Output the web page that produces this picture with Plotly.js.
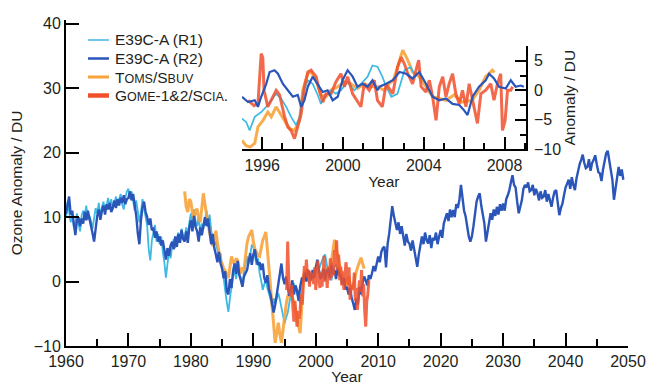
<!DOCTYPE html>
<html>
<head>
<meta charset="utf-8">
<script src="https://cdn.plot.ly/plotly-3.0.1.min.js"></script>
<style>html,body{margin:0;padding:0;background:#fff;}#chart{width:646px;height:385px;}</style>
</head>
<body>
<div id="chart"></div>
<script>
// ---------------- DATA ----------------
// Main panel: quarterly samples, anomaly in DU
const r2Start = 1960;
const r2Values = [
 10.5,11.8,13.2,10.4, 11.0,9.0,7.2,9.5, 10.0,8.6,9.8,9.0, 10.8,9.5,11.0,9.8, 8.8,7.5,6.2,8.5,
 10.2,11.2,9.6,11.0, 11.8,10.4,12.0,11.2, 12.2,10.8,11.5,12.6, 11.4,12.8,11.8,13.0, 12.2,13.4,12.0,12.8,
 13.0,14.0,12.6,13.6, 12.0,10.2,7.5,5.8, 9.5,11.5,12.4,10.8, 10.0,8.8,9.8,8.0, 8.2,6.8,7.8,6.2,
 7.0,5.6,6.4,4.8, 3.4,5.2,4.0,5.6, 6.2,5.0,7.0,5.4, 7.4,6.0,8.0,6.6, 6.2,7.8,6.0,8.4,
 9.5,7.8,10.2,8.5, 7.8,6.2,8.4,7.2, 9.0,10.0,8.6,9.8, 7.8,5.8,7.4,5.2, 4.2,3.0,4.6,2.8,
 2.0,0.5,1.6,-1.5, -2.0,0.4,-1.0,1.6, 2.8,1.2,3.2,1.0, 0.2,-0.8,0.8,1.4, 1.8,3.2,4.4,2.6,
 4.2,5.0,3.4,2.6, 3.0,1.8,2.8,0.6, -0.2,1.0,-1.2,-2.0, -3.2,-4.8,-3.6,-2.0, -1.0,1.2,2.8,0.6,
 -0.4,0.8,-1.0,-2.2, -1.2,0.2,-2.0,-0.6, -1.4,-3.0,-0.8,0.4, 0.2,1.4,0.0,1.8, 1.2,0.2,1.8,0.6,
 2.2,3.4,1.8,0.4, 0.8,2.0,0.2,1.6, 1.8,0.6,2.6,1.2, 1.8,0.4,2.0,1.2, 0.8,-0.4,0.6,-1.2,
 -0.8,-2.0,-1.0,-2.6, -3.4,-4.4,-2.6,-3.6, -0.8,-2.0,-0.2,0.8, 0.2,-0.6,1.0,0.4, 1.3,2.4,1.6,3.0,
 3.9,3.0,4.6,5.2, 5.4,2.2,5.8,7.4, 9.6,11.7,10.2,8.8, 8.0,9.2,7.4,8.6, 7.0,5.6,7.4,6.2,
 5.9,4.8,6.4,5.0, 3.4,2.3,4.2,5.6, 7.0,5.8,7.6,6.4, 5.9,7.2,5.2,6.8, 6.4,7.6,5.8,7.0,
 8.0,6.8,9.0,9.8, 10.6,9.4,11.2,10.0, 11.1,10.0,12.0,11.4, 12.7,15.0,13.2,11.0, 10.1,8.2,7.0,6.2,
 7.0,8.6,11.0,12.4, 13.2,13.7,11.8,10.4, 9.0,6.2,7.6,9.2, 10.6,9.6,11.2,10.2, 11.6,10.4,12.0,11.0,
 12.1,11.0,12.8,13.4, 14.2,15.4,16.5,15.0, 14.6,12.4,10.6,11.6, 12.6,14.4,15.0,14.6, 15.4,14.0,14.2,15.0,
 13.4,14.4,13.7,12.6, 14.0,13.0,13.2,14.2, 12.4,13.6,12.7,11.6, 13.0,14.0,14.2,12.0, 10.3,11.4,12.1,13.4,
 14.6,15.2,15.8,14.4, 16.2,15.0,14.2,16.0, 17.4,18.2,18.9,19.7, 18.4,17.6,17.8,19.0, 17.2,18.4,18.9,19.6,
 18.2,17.0,16.8,15.6, 17.4,18.8,19.9,20.3, 19.0,17.2,15.8,12.7, 14.6,16.4,17.8,16.4, 17.4,15.8
];
const r1Start = 1960;
const r1Values = [
 10.0,12.4,10.8,9.2, 10.5,8.4,9.2,10.6, 9.0,7.8,10.2,11.0, 10.4,11.8,9.6,10.2, 9.4,8.2,9.8,11.4,
 10.6,12.2,10.0,11.6, 12.4,11.0,11.8,13.0, 11.6,12.8,11.2,12.2, 13.2,11.8,12.6,13.6, 12.0,11.2,13.0,14.0,
 14.4,12.8,14.0,12.4, 11.0,12.6,10.4,9.2, 10.8,12.8,11.4,9.6, 8.6,5.0,3.3,6.4, 7.6,8.8,6.2,7.4,
 5.8,7.0,4.6,3.0, 0.6,2.8,4.8,3.6, 5.6,6.6,5.2,6.8, 7.6,6.4,8.2,7.0, 6.8,8.4,7.0,9.2,
 10.6,8.8,11.2,9.4, 8.6,10.0,7.6,9.0, 8.2,9.6,11.0,9.2, 10.4,8.0,6.4,5.6, 6.2,4.9,3.6,4.4,
 2.2,0.8,-1.4,-3.2, -4.7,-2.6,-0.4,0.8, 1.7,0.4,2.4,1.2, 0.6,-0.6,1.4,2.6, 3.9,2.8,4.6,5.6,
 5.4,4.2,2.6,3.6, 1.3,0.2,-1.3,-0.4, 0.2,-1.0,-1.8,-2.8, -3.9,-2.6,-3.4,-2.4, -1.8,-2.8,-3.9,-5.0,
 -6.5,-5.6,-4.9,-3.4, -1.8,-0.8,-0.3,-1.0, -1.8,-2.6,-3.4,-1.6, 0.8,1.6,1.8,0.6, -0.3,0.4,0.8,1.6,
 2.3,1.4,1.8,2.6, 3.4,3.9,4.2,2.8, 1.3,0.6,0.2,1.2, 2.3,2.6,1.8
];
const tomsStart = 1979;
const tomsValues = [
 14.0,11.6,10.8,12.8, 12.4,10.6,9.7,11.0, 11.3,9.8,9.2,11.6, 13.7,12.0,10.3,9.0, 7.6,6.4,5.5,6.6,
 7.9,6.0,4.4,3.2, 2.8,2.0,1.7,0.9, 0.6,2.4,3.9,3.0, 2.8,3.6,3.3,2.0, 1.2,2.2,1.7,4.0,
 6.0,7.0,7.6,8.0, 6.2,5.0,4.6,4.0, 3.9,5.2,6.4,7.0, 7.7,5.0,1.8,-1.4, -4.4,-7.6,-9.5,-8.0,
 -6.4,-8.2,-9.5,-7.6, -5.4,-3.6,-2.3,-1.8, -1.3,-2.4,-3.4,-4.4, -5.4,-7.0,-8.0,-4.0, 0.8,1.6,1.8,1.2,
 0.8,1.2,0.4,1.4, 1.8,2.6,1.4,0.8, 1.3,2.0,0.8,1.6, 2.3,1.4,3.0,4.6, 6.5,5.2,3.9,2.6,
 1.3,0.6,-0.4,0.4, -0.6,0.8,-0.2,-1.0, -0.8,0.6,1.6,2.4, 3.0,3.7,2.8,2.0
];
// GOME: two-monthly samples
const gomeStart = 1995 + 2 / 6;
const gomeValues = [
 -1.3,6.2,0.5,-1.8,
 -2.3,-0.5,-4.0,-6.2,-3.0,-5.0,  -7.0,-4.6,-5.8,-4.4,-2.0,-3.6,  0.2,2.4,1.0,3.4,0.6,1.8,
 -0.8,1.6,0.2,1.3,-0.4,2.2,  -1.3,0.8,3.2,0.4,-1.0,1.4,  -0.8,1.2,4.0,0.0,1.6,-1.0,
 2.3,0.2,3.6,0.6,3.0,1.0,  4.9,2.4,6.4,1.8,4.2,0.2,  2.3,-0.6,1.6,-1.3,0.4,3.0,
 1.3,-0.6,2.2,-2.8,-0.6,-1.0,  -1.3,1.4,-3.0,-1.0,-4.4,-1.6,  0.2,-1.6,1.8,-2.3,-0.4,-4.5,
 -7.0,-3.0,-2.0,0.2
];

// Inset panel (1995-2009), anomaly in DU
const insetR2Year = [1995.00,1995.30,1995.63,1995.79,1995.95,1996.20,1996.37,1996.61,1996.78,1997.02,1997.27,1997.52,1997.76,1997.93,1998.09,1998.26,1998.50,1998.75,1999.00,1999.24,1999.49,1999.74,1999.98,2000.23,2000.48,2000.72,2000.97,2001.22,2001.46,2001.71,2001.81,2002.14,2002.47,2002.80,2003.13,2003.45,2003.78,2004.11,2004.44,2004.77,2005.10,2005.43,2005.76,2006.00,2006.17,2006.42,2006.74,2007.07,2007.24,2007.48,2007.73,2008.06,2008.31,2008.55,2008.80,2008.96];
const insetR2 = [-1.1,-2.0,-1.7,-2.8,-1.1,1.1,3.1,3.4,2.8,1.1,0.0,-1.1,-0.8,-2.8,-1.7,0.6,2.3,1.1,-0.3,0.0,-1.7,-1.1,1.7,3.4,2.3,0.6,1.1,0.6,1.7,0.0,0.6,1.1,1.7,3.1,2.8,2.0,3.1,1.1,-1.1,-1.7,-1.4,-2.3,-2.5,-3.4,-4.2,-1.1,0.6,1.7,2.8,2.0,0.6,0.3,1.7,0.6,0.8,0.6];
const insetR1Year = [1995.00,1995.21,1995.38,1995.63,1995.95,1996.20,1996.45,1996.69,1996.94,1997.19,1997.43,1997.68,1997.85,1998.01,1998.26,1998.50,1998.75,1998.91,1999.16,1999.41,1999.65,1999.90,2000.23,2000.56,2000.89,2001.22,2001.46,2001.71,2001.95,2002.14,2002.40,2002.70,2003.05,2003.35,2003.55];
const insetR1 = [-4.8,-5.4,-6.8,-4.5,-3.7,-2.8,-1.7,-0.6,-1.4,-2.8,-4.5,-5.9,-4.5,-0.6,1.7,1.1,-0.8,-2.3,-0.8,0.0,-0.6,0.0,1.4,0.0,1.1,2.3,4.2,4.0,2.3,0.6,-1.1,-0.6,3.4,3.9,2.6];
const insetTomsYear = [1995.00,1995.20,1995.40,1995.63,1995.79,1996.04,1996.28,1996.45,1996.69,1996.86,1997.11,1997.35,1997.60,1997.85,1998.01,1998.26,1998.42,1998.67,1998.91,1999.16,1999.41,1999.74,2000.07,2000.39,2000.72,2001.05,2001.38,2001.71,2002.04,2002.30,2002.50,2002.80,2002.96,2003.21,2003.45,2003.78,2004.11,2004.44,2004.77,2005.10,2005.50,2005.90,2006.40,2006.74,2007.07,2007.40,2007.50];
const insetToms = [-8.5,-9.4,-9.6,-9.0,-6.2,-5.1,-3.7,-4.5,-2.8,-3.7,-5.1,-6.5,-6.8,-5.1,0.0,2.8,3.1,1.7,-0.8,-1.1,0.0,0.6,1.4,1.1,0.3,1.1,0.6,0.6,0.0,1.2,1.7,5.1,6.8,5.1,3.1,2.3,0.6,-1.1,-1.4,-1.7,-0.8,-2.0,-1.7,0.0,2.3,3.4,3.0];
const insetGomeYear = [1995.30,1995.60,1995.79,1995.95,1996.03,1996.09,1996.28,1996.45,1996.69,1996.86,1997.11,1997.27,1997.43,1997.60,1997.76,1997.93,1998.09,1998.26,1998.42,1998.67,1998.83,1999.00,1999.16,1999.41,1999.65,1999.90,2000.07,2000.23,2000.48,2000.72,2000.89,2001.05,2001.30,2001.55,2001.71,2001.95,2002.14,2002.47,2002.71,2002.88,2003.04,2003.21,2003.45,2003.62,2003.75,2003.87,2004.11,2004.28,2004.44,2004.61,2004.77,2004.94,2005.10,2005.26,2005.43,2005.59,2005.76,2005.92,2006.09,2006.25,2006.50,2006.66,2006.83,2007.07,2007.32,2007.48,2007.65,2007.81,2007.90,2008.03,2008.15,2008.31,2008.40];
const insetGome = [-1.7,-2.6,-2.3,6.2,5.5,0.0,-2.8,-1.7,0.0,-0.8,-4.5,-6.2,-6.8,-8.2,-6.2,-4.0,0.6,3.1,3.4,2.3,0.0,-2.0,-0.6,-0.6,1.4,2.8,0.6,2.3,-0.6,-2.0,-2.8,1.1,0.0,1.7,-1.7,-2.8,1.1,-0.6,4.0,5.6,4.5,2.8,1.1,3.4,5.1,0.6,-0.3,1.7,-1.1,-5.1,0.6,2.3,-1.1,1.1,2.8,-0.6,-2.3,0.0,-2.8,1.1,-2.8,-5.6,-0.6,0.0,1.1,-1.7,1.1,2.8,-6.8,-5.1,0.0,0.0,0.6];

// Series names and tick labels
const seriesNames = ['E39C-A (R1)', 'E39C-A (R2)', 'TOMS/SBUV', 'GOME-1&2/SCIA.'];
const legendLabels = [
  'E39C-A (R1)',
  'E39C-A (R2)',
  'T<span style="font-size:12.5px">OMS</span>/S<span style="font-size:12.5px">BUV</span>',
  'G<span style="font-size:12.5px">OME</span>-1&2/S<span style="font-size:12.5px">CIA</span>.'
];
const mainXTicks = [1960,1970,1980,1990,2000,2010,2020,2030,2040,2050];
const mainXTickText = ['1960','1970','1980','1990','2000','2010','2020','2030','2040','2050'];
const mainYTicks = [-10,0,10,20,30,40];
const mainYTickText = ['\u221210','0','10','20','30','40'];
const insetXTicks = [1995,1996,1998,2000,2002,2004,2006,2008];
const insetXTickText = ['','1996','','2000','','2004','','2008'];
const insetYTicks = [-10,-5,0,5];
const insetYTickText = ['\u221210','\u22125','0','5'];

// ---------------- STYLE ----------------
const colR1 = '#3db9e3', colR2 = '#2a55b9', colToms = '#f8a33a', colGome = '#f0502c';
const FONT = '"Liberation Sans", Arial, sans-serif';
const TXT = '#231f20';

function regular(start, step, n) {
  const out = [];
  for (let i = 0; i < n; i++) out.push(Math.round((start + i * step) * 1000) / 1000);
  return out;
}

const W = 646, H = 385, ML = 66, MR = 18, MT = 20, MB = 39;
const PW = W - ML - MR, PH = H - MT - MB;
const px = x => (x - ML) / PW;
const py = y => (H - MB - y) / PH;

const traces = [
  {x: regular(r1Start, 0.25, r1Values.length), y: r1Values, name: seriesNames[0], mode: 'lines',
   line: {color: colR1, width: 1.8}, xaxis: 'x', yaxis: 'y'},
  {x: regular(tomsStart, 0.25, tomsValues.length), y: tomsValues, name: seriesNames[2], mode: 'lines',
   line: {color: colToms, width: 3}, opacity: 0.9, xaxis: 'x', yaxis: 'y'},
  {x: regular(r2Start, 0.25, r2Values.length), y: r2Values, name: seriesNames[1], mode: 'lines',
   line: {color: colR2, width: 2.4}, xaxis: 'x', yaxis: 'y'},
  {x: regular(gomeStart, 1 / 6, gomeValues.length), y: gomeValues, name: seriesNames[3], mode: 'lines',
   line: {color: colGome, width: 3}, opacity: 0.85, xaxis: 'x', yaxis: 'y'},
  // inset
  {x: insetTomsYear, y: insetToms, name: seriesNames[2], mode: 'lines',
   line: {color: colToms, width: 3}, opacity: 0.9, xaxis: 'x2', yaxis: 'y2'},
  {x: insetR1Year, y: insetR1, name: seriesNames[0], mode: 'lines',
   line: {color: colR1, width: 1.7}, xaxis: 'x2', yaxis: 'y2'},
  {x: insetGomeYear, y: insetGome, name: seriesNames[3], mode: 'lines',
   line: {color: colGome, width: 3}, opacity: 0.85, xaxis: 'x2', yaxis: 'y2'},
  {x: insetR2Year, y: insetR2, name: seriesNames[1], mode: 'lines',
   line: {color: colR2, width: 2.2}, xaxis: 'x2', yaxis: 'y2'}
];

// manual legend (compact, like the original)
const legendColors = [colR1, colR2, colToms, colGome];
const legendWidths = [1.5, 2.5, 3, 4.5];
const legendRowsPx = [40, 58.5, 77, 95.5];
const shapes = [], annotations = [];
legendRowsPx.forEach((yy, i) => {
  shapes.push({type: 'line', xref: 'paper', yref: 'paper', x0: px(88), x1: px(109), y0: py(yy), y1: py(yy),
    line: {color: legendColors[i], width: legendWidths[i]}});
  annotations.push({xref: 'paper', yref: 'paper', x: px(113), y: py(yy), xanchor: 'left', yanchor: 'middle',
    text: legendLabels[i], showarrow: false, font: {family: FONT, size: 15.5, color: TXT}});
});

const axisCommon = {showgrid: false, zeroline: false, showline: true, linecolor: '#000', linewidth: 2,
  ticks: 'inside', tickcolor: '#000', tickwidth: 2, tickfont: {family: FONT, size: 16, color: TXT}};

const layout = {
  width: W, height: H,
  margin: {l: ML, r: MR, t: MT, b: MB, pad: 0},
  paper_bgcolor: '#fff', plot_bgcolor: 'rgba(0,0,0,0)',
  showlegend: false,
  font: {family: FONT, color: TXT},
  xaxis: Object.assign({}, axisCommon, {
    domain: [0, 1], anchor: 'y', range: [1960, 2050],
    tickmode: 'array', tickvals: mainXTicks, ticktext: mainXTickText, ticklen: 13,
    ticklabelstandoff: 0,
    minor: {dtick: 5, tick0: 1960, ticks: 'inside', ticklen: 7, tickwidth: 2, tickcolor: '#000'},
    title: {text: 'Year', font: {family: FONT, size: 15.5, color: TXT}, standoff: 7}
  }),
  yaxis: Object.assign({}, axisCommon, {
    domain: [0, 1], anchor: 'x', range: [-10, 40.6],
    tickmode: 'array', tickvals: mainYTicks, ticktext: mainYTickText, ticklen: 13,
    ticklabelstandoff: 0,
    title: {text: 'Ozone Anomaly / DU', font: {family: FONT, size: 15.5, color: TXT}, standoff: 7}
  }),
  xaxis2: Object.assign({}, axisCommon, {
    domain: [px(242), px(525.7)], anchor: 'y2', range: [1995, 2009.05],
    tickmode: 'array', tickvals: insetXTicks, ticktext: insetXTickText, ticklen: 12,
    ticklabelstandoff: 0,
    minor: {dtick: 1, tick0: 1995, ticks: 'inside', ticklen: 6, tickwidth: 2, tickcolor: '#000'},
    title: {text: 'Year', font: {family: FONT, size: 15.5, color: TXT}, standoff: 4}
  }),
  yaxis2: Object.assign({}, axisCommon, {
    domain: [py(149.3), py(46)], anchor: 'x2', side: 'right', range: [-10, 7.5],
    tickmode: 'array', tickvals: insetYTicks, ticktext: insetYTickText, ticklen: 11,
    ticklabelstandoff: 3,
    minor: {dtick: 2.5, tick0: 0, ticks: 'inside', ticklen: 6, tickwidth: 2, tickcolor: '#000'},
    title: {text: 'Anomaly / DU', font: {family: FONT, size: 15.5, color: TXT}, standoff: 4}
  }),
  shapes: shapes,
  annotations: annotations
};

Plotly.newPlot('chart', traces, layout, {staticPlot: true, displayModeBar: false});
</script>
</body>
</html>
